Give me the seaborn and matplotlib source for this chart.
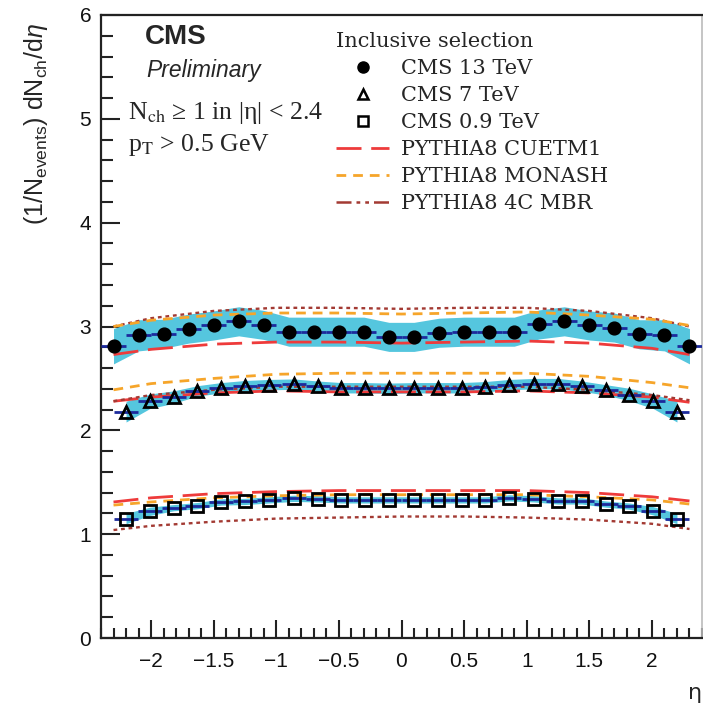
import numpy as np
import pandas as pd
import matplotlib
matplotlib.use("Agg")
import matplotlib.pyplot as plt
import seaborn as sns
from matplotlib.ticker import MultipleLocator
from matplotlib.lines import Line2D

# ---------------- data ----------------
eta13 = [-2.3, -2.1, -1.9, -1.7, -1.5, -1.3, -1.1, -0.9, -0.7, -0.5, -0.3, -0.1,
         0.1, 0.3, 0.5, 0.7, 0.9, 1.1, 1.3, 1.5, 1.7, 1.9, 2.1, 2.3]
dndeta13 = [2.81, 2.915, 2.93, 2.98, 3.01, 3.05, 3.015, 2.95, 2.95, 2.95, 2.95, 2.90,
            2.90, 2.94, 2.95, 2.95, 2.95, 3.02, 3.05, 3.01, 2.99, 2.925, 2.915, 2.81]
err13 = [0.17, 0.15, 0.14, 0.14, 0.14, 0.14, 0.14, 0.14, 0.14, 0.14, 0.14, 0.14,
         0.14, 0.14, 0.14, 0.14, 0.14, 0.14, 0.14, 0.14, 0.14, 0.14, 0.15, 0.17]

eta_low = [-2.2, -2.01, -1.82, -1.63, -1.44, -1.25, -1.06, -0.86, -0.67, -0.48, -0.29, -0.1,
           0.1, 0.29, 0.48, 0.67, 0.86, 1.06, 1.25, 1.44, 1.63, 1.82, 2.01, 2.2]
dndeta7 = [2.18, 2.28, 2.32, 2.38, 2.41, 2.43, 2.44, 2.445, 2.425, 2.41, 2.41, 2.405,
           2.41, 2.41, 2.41, 2.42, 2.44, 2.45, 2.45, 2.425, 2.39, 2.345, 2.28, 2.18]
err7 = [0.10, 0.07, 0.06, 0.05, 0.05, 0.05, 0.05, 0.05, 0.05, 0.05, 0.05, 0.05,
        0.05, 0.05, 0.05, 0.05, 0.05, 0.05, 0.05, 0.05, 0.05, 0.06, 0.07, 0.10]
dndeta09 = [1.15, 1.22, 1.255, 1.275, 1.31, 1.315, 1.33, 1.345, 1.34, 1.33, 1.33, 1.33,
            1.33, 1.33, 1.33, 1.33, 1.35, 1.34, 1.32, 1.32, 1.29, 1.27, 1.225, 1.15]
err09 = [0.05, 0.04, 0.03, 0.03, 0.03, 0.03, 0.03, 0.03, 0.03, 0.03, 0.03, 0.03,
         0.03, 0.03, 0.03, 0.03, 0.03, 0.03, 0.03, 0.03, 0.03, 0.03, 0.04, 0.05]

eta_mc = [-2.3, -2.0, -1.5, -1.0, -0.5, 0.0, 0.5, 1.0, 1.5, 2.0, 2.3]
cuetm1_13 = [2.73, 2.78, 2.83, 2.85, 2.85, 2.84, 2.85, 2.86, 2.84, 2.79, 2.73]
monash_13 = [3.00, 3.06, 3.11, 3.13, 3.13, 3.12, 3.13, 3.14, 3.11, 3.07, 3.01]
mbr_13 = [3.00, 3.08, 3.15, 3.18, 3.18, 3.17, 3.18, 3.18, 3.15, 3.08, 3.00]
cuetm1_7 = [2.28, 2.32, 2.36, 2.38, 2.37, 2.37, 2.37, 2.38, 2.36, 2.32, 2.27]
monash_7 = [2.39, 2.45, 2.50, 2.54, 2.55, 2.55, 2.55, 2.55, 2.52, 2.46, 2.41]
mbr_7 = [2.28, 2.34, 2.39, 2.42, 2.42, 2.42, 2.42, 2.42, 2.39, 2.34, 2.29]
cuetm1_09 = [1.31, 1.35, 1.39, 1.41, 1.42, 1.42, 1.42, 1.42, 1.40, 1.36, 1.32]
monash_09 = [1.28, 1.31, 1.35, 1.37, 1.38, 1.38, 1.38, 1.38, 1.36, 1.33, 1.29]
mbr_09 = [1.04, 1.08, 1.12, 1.15, 1.16, 1.17, 1.17, 1.16, 1.14, 1.10, 1.05]

x_ticks = [-2, -1.5, -1, -0.5, 0, 0.5, 1, 1.5, 2]
y_ticks = [0, 1, 2, 3, 4, 5, 6]

# ---------------- style ----------------
sns.set_theme(style="ticks")
plt.rcParams["font.family"] = ["Liberation Sans", "DejaVu Sans"]
plt.rcParams["mathtext.fontset"] = "custom"
plt.rcParams["mathtext.rm"] = "Liberation Sans"
plt.rcParams["mathtext.it"] = "Liberation Sans:italic"

CYAN = "#55c6de"
NAVY = "#1c2a9c"
RED = "#ee3b3b"
ORANGE = "#f6a52a"
BROWN = "#a33a33"

ls_cuet = (0, (9, 3.5))
ls_mon = (0, (3.5, 2.5))
ls_mbr = (0, (1.6, 1.6))
ls_mbr_leg = (0, (6, 2, 1.5, 2, 1.5, 2))

W, H = 703, 706
fig = plt.figure(figsize=(W / 100, H / 100), dpi=100)
ax = fig.add_axes([101 / W, 1 - 638 / H, (702 - 101) / W, (638 - 15) / H])

# uncertainty bands
for eta, y, e in [(eta13, dndeta13, err13), (eta_low, dndeta7, err7), (eta_low, dndeta09, err09)]:
    ya = np.array(y); ea = np.array(e)
    ax.fill_between(eta, ya - ea, ya + ea, color=CYAN, lw=0, zorder=1)

# model curves
models = pd.DataFrame({
    "eta": eta_mc * 9,
    "value": cuetm1_13 + monash_13 + mbr_13 + cuetm1_7 + monash_7 + mbr_7 + cuetm1_09 + monash_09 + mbr_09,
    "model": (["CUETM1"] * 11 + ["MONASH"] * 11 + ["MBR"] * 11) * 3,
    "energy": ["13"] * 33 + ["7"] * 33 + ["0.9"] * 33,
})
style = {"CUETM1": (RED, ls_cuet, 2.0), "MONASH": (ORANGE, ls_mon, 2.0), "MBR": (BROWN, ls_mbr, 1.7)}
for (m, en), sub in models.groupby(["model", "energy"]):
    c, ls, lw = style[m]
    sns.lineplot(data=sub, x="eta", y="value", ax=ax, color=c, linestyle=ls, lw=lw,
                 zorder=3, legend=False, estimator=None, sort=True)

# data points
ax.errorbar(eta13, dndeta13, xerr=0.1, fmt="none", ecolor=NAVY, elinewidth=2, zorder=4)
ax.errorbar(eta_low, dndeta7, xerr=0.096, fmt="none", ecolor=NAVY, elinewidth=2, zorder=4)
ax.errorbar(eta_low, dndeta09, xerr=0.096, fmt="none", ecolor=NAVY, elinewidth=2, zorder=4)
ax.plot(eta13, dndeta13, ls="none", marker="o", ms=9.2, color="black", zorder=5)
ax.plot(eta_low, dndeta7, ls="none", marker="^", ms=8, mfc="none", mec="black", mew=2, zorder=5)
ax.plot(eta_low, dndeta09, ls="none", marker="s", ms=8.3, mfc="none", mec="black", mew=2, zorder=5)

# axes
ax.set_xlim(-2.4, 2.4)
ax.set_ylim(0, 6)
ax.set_xticks(x_ticks)
ax.set_xticklabels([f"{t:g}".replace("-", "\u2212") for t in x_ticks])
ax.set_yticks(y_ticks)
ax.xaxis.set_minor_locator(MultipleLocator(0.1))
ax.yaxis.set_minor_locator(MultipleLocator(0.2))
ax.tick_params(axis="both", which="both", direction="in", top=False, right=False,
               labelsize=15, width=1.5, color="#222222", labelcolor="#111111")
ax.tick_params(axis="x", which="major", length=13, pad=10)
ax.tick_params(axis="x", which="minor", length=7)
ax.tick_params(axis="y", which="major", length=13.5, pad=7)
ax.tick_params(axis="y", which="minor", length=8.5)
for s in ["left", "bottom", "top"]:
    ax.spines[s].set_color("#222222")
    ax.spines[s].set_linewidth(1.6)
ax.spines["right"].set_color("#bbbbbb")
ax.spines["right"].set_linewidth(1.2)
ax.set_xlabel("")
ax.set_ylabel("")
ax.grid(False)

fig.text(36 / W, 1 - 124 / H, r"(1/N$_{\rm events}$) dN$_{\rm ch}$/d$\eta$", rotation=90,
         ha="center", va="center", fontsize=18)
fig.text(695 / W, 1 - 693 / H, "\u03b7", ha="center", va="center", fontsize=16,
         family=["DejaVu Sans"])

fig.text(145 / W, 1 - 37 / H, "CMS", fontsize=20, weight="bold", ha="left", va="center")
fig.text(146 / W, 1 - 71 / H, "Preliminary", fontsize=16.5, style="italic", ha="left", va="center")
fig.text(128 / W, 1 - 113 / H, r"N$_{\rm ch}$ \u2265 1 in |\u03b7| < 2.4".replace(r"\u2265", "\u2265").replace(r"\u03b7", "\u03b7"),
         fontsize=18.5, family=["Liberation Serif", "DejaVu Serif"], math_fontfamily="stix",
         ha="left", va="center")
fig.text(128 / W, 1 - 145 / H, r"p$_{\rm T}$ > 0.5 GeV", fontsize=18.5,
         family=["Liberation Serif", "DejaVu Serif"], math_fontfamily="stix", ha="left", va="center")

handles = [
    Line2D([], [], ls="none", marker="o", ms=8, color="black"),
    Line2D([], [], ls="none", marker="^", ms=7, mfc="none", mec="black", mew=1.8),
    Line2D([], [], ls="none", marker="s", ms=7, mfc="none", mec="black", mew=1.8),
    Line2D([], [], color=RED, ls=ls_cuet, lw=2),
    Line2D([], [], color=ORANGE, ls=ls_mon, lw=2),
    Line2D([], [], color=BROWN, ls=ls_mbr_leg, lw=1.8),
]
labels = ["CMS 13 TeV", "CMS 7 TeV", "CMS 0.9 TeV", "PYTHIA8 CUETM1", "PYTHIA8 MONASH", "PYTHIA8 4C MBR"]
leg = ax.legend(handles, labels, loc="upper left", bbox_to_anchor=(336 / W, 1 - 32 / H),
                bbox_transform=fig.transFigure, frameon=False, borderpad=0, borderaxespad=0,
                handlelength=2.55, handletextpad=0.55, labelspacing=0.38,
                title="Inclusive selection", alignment="left",
                prop={"family": "DejaVu Serif", "size": 15},
                title_fontproperties={"family": "DejaVu Serif", "size": 15})
leg._legend_box.sep = 6

fig.savefig("out.png", dpi=100)
